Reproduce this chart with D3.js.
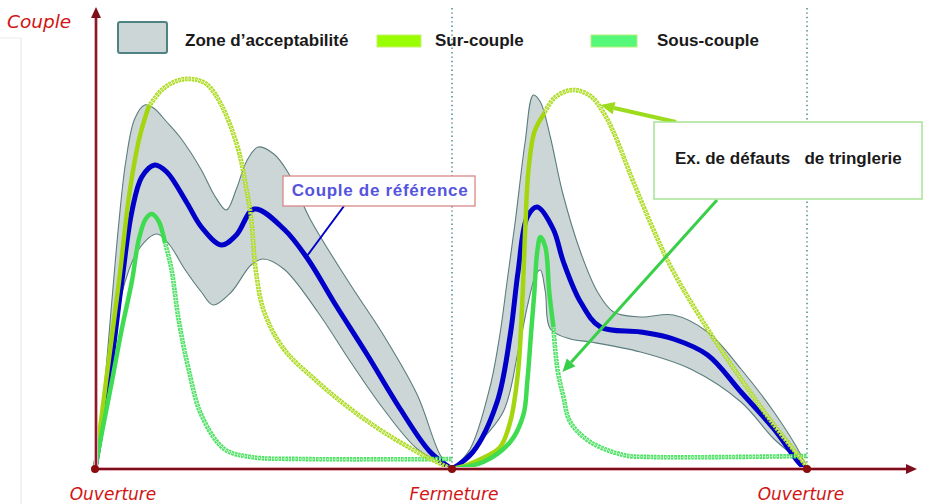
<!DOCTYPE html>
<html><head><meta charset="utf-8">
<script src="https://cdn.jsdelivr.net/npm/d3@7"></script>
<style>body{margin:0;background:#fff}svg{display:block}</style>
</head><body><svg id="c" width="927" height="504"></svg>
<script>
// ---------- DATA (x: cycle position 0..200, y: couple 0..100) ----------
const yLabel = "Couple";
const phases = ["Ouverture", "Fermeture", "Ouverture"];
const phasePos = [0, 100, 200];
const legendLabels = ["Zone d\u2019acceptabilité", "Sur-couple", "Sous-couple"];
const refLabel = "Couple de référence";
const defectLabel = "Ex. de défauts   de tringlerie";

const bandUpper1 = [[0,0],[2.5,19.25],[4.7,41.75],[6.7,61.75],[8.6,76.75],[11.1,87.5],[13.9,91],[16.4,90.25],[20.1,86.75],[24.2,82.5],[29.8,74.75],[33.4,68.5],[36.8,64.75],[39.6,70],[42.5,77],[45.7,80.5],[50.1,78.75],[54.0,74.25],[60.4,62.25],[71.6,46],[80.8,33.5],[90.3,18.5],[96.7,3.5],[100,0]];
const bandLower1 = [[0,0],[3.3,19.25],[6.1,36.75],[8.4,46.75],[12.3,55],[17.3,58.75],[20.9,56],[25.1,50],[29.8,44.25],[33.1,41],[38.2,44.25],[43.7,51],[47.1,52.5],[52.9,50],[62.4,39.25],[71.6,26.75],[80.8,15],[90.3,5],[100,0]];
const bandUpper2 = [[100,0],[105.1,5],[110.7,20.5],[113.6,34.25],[115.5,46.75],[117.8,61.75],[120.6,81.75],[122.9,93.5],[124.9,91.75],[127.7,83],[131.1,69.25],[136.2,54.25],[141.0,44.25],[145.5,39.25],[153.1,38],[162.4,38.5],[172.0,34.25],[181.4,25],[190.7,14.25],[198.3,3.5],[200,0]];
const bandLower2 = [[100,0],[105.9,5],[114.4,14.25],[118.6,29.25],[121.5,41.75],[123.7,48.75],[124.9,49.75],[126.3,44.25],[127.7,35],[133.3,32.5],[139.0,31.75],[153.1,29.25],[167.2,25],[181.4,16.75],[190.7,7.5],[198.3,1.75],[200,0]];

const ref1 = [[0,0],[3.9,21.75],[7.5,46.75],[10.3,64.25],[13.1,73],[16.7,76],[20.1,74.25],[25.6,66.75],[29.8,60.5],[35.4,56],[39.6,58.5],[44.6,65],[52.9,60],[59.6,52.5],[66.9,41.75],[76.3,28.5],[85.5,15],[93.9,4.25],[100,0]];
const ref2 = [[100,0],[105.9,4.25],[112.7,16.75],[116.4,33.5],[118.6,49.25],[121.2,63],[124.0,65.5],[128.5,60],[131.4,51.75],[136.2,41.75],[141.8,35.5],[153.1,34.25],[162.4,32.5],[172.0,28.5],[181.4,19.25],[190.7,10],[198.3,1],[200,0]];

const sur1Solid = [[0,0],[3.1,22],[6.7,46.75],[9.7,69.25],[12.5,83],[15.0,90.5]];
const sur1Dotted = [[15.0,90.5],[18.7,94.75],[22.8,97],[27.0,97.5],[31.2,96.25],[35.4,91],[40.1,80],[42.3,70.5],[43.7,63],[45.1,49.25],[47.4,39.25],[52.9,30],[62.4,21.75],[71.6,15],[80.8,9.25],[90.3,4.25],[97.5,1],[100,0]];
const sur2Solid = [[100,0],[104.2,1],[109.3,3],[113.6,5.5],[116.4,11.75],[118.6,24.25],[119.8,41.75],[120.6,59.25],[121.5,74.25],[123.2,84.25],[125.7,88.5]];
const sur2Dotted = [[125.7,88.5],[129.1,93],[134.2,94.75],[139.0,93.25],[142.4,89.5],[145.5,84.25],[151.1,71.75],[157.9,57.5],[162.4,49.25],[172.0,35],[181.4,22.5],[190.7,11],[198.3,2.5],[200,0.5]];

const sous1Solid = [[0,0],[1.95,9.25],[4.7,21.75],[7.5,35],[10.3,46.75],[12.3,57.5],[14.2,62.5],[15.9,63.75],[17.8,62],[19.5,57]];
const sous1Dotted = [[19.5,57],[21.4,50],[23.4,37.5],[26.2,25],[29.8,13.5],[36.2,5],[43.7,3],[57.7,2.5],[100,2.5]];
const sous2Solid = [[100,0],[108.8,1.75],[116.4,6.75],[120.1,13.5],[121.2,21.75],[122.3,34.25],[123.2,44.25],[124.0,54.25],[124.9,58],[126.3,55.5],[127.4,44.25],[128.5,36]];
const sous2Dotted = [[128.5,36],[129.7,25],[131.4,18],[133.3,11.75],[139.0,6.75],[148.3,3.5],[155.9,3],[200,3.25]];

// annotation anchors (data units)
const refPointer = [59.6, 53.5];
const surPointer = [141.8, 91];
const sousPointer = [131.1, 24.25];

// ---------- DRAWING ----------
const svg = d3.select("#c");
const x = d3.scaleLinear().domain([0, 100, 200]).range([95, 452, 807]);
const y = d3.scaleLinear().domain([0, 100]).range([469, 69]);
const line = d3.line().x(d => x(d[0])).y(d => y(d[1])).curve(d3.curveCatmullRom.alpha(0.5));

const C = {
  axis: "#7d0f1c", axisGlow: "#e3aab2", red: "#d11414",
  bandFill: "#cdd6d6", bandStroke: "#5b7d7d",
  blue: "#0000c8", sur: "#a4d610", surDot: "#addc22", sous: "#3fdc52", sousDot: "#4ee264",
  grid: "#4b9494"
};

// faint page border
svg.append("line").attr("x1",21).attr("x2",21).attr("y1",38).attr("y2",504).attr("stroke","#e6e6e6");
svg.append("line").attr("x1",0).attr("x2",21).attr("y1",38).attr("y2",38).attr("stroke","#ececec");

// vertical dotted separators
[phasePos[1], phasePos[2]].forEach(p => {
  svg.append("line").attr("x1", x(p)).attr("x2", x(p)).attr("y1", 8).attr("y2", y(0))
    .attr("stroke", C.grid).attr("stroke-width", 1.6).attr("stroke-dasharray", "1.4 3");
});

// band
function bandPath(up, low) {
  return line(up) + line(low.slice().reverse()).replace(/^M/, "L") + "Z";
}
[[bandUpper1, bandLower1], [bandUpper2, bandLower2]].forEach(([u, l]) => {
  svg.append("path").attr("d", bandPath(u, l)).attr("fill", C.bandFill)
    .attr("stroke", C.bandStroke).attr("stroke-width", 1.1).attr("stroke-linejoin", "round");
});

// reference curve
[ref1, ref2].forEach(d => {
  svg.append("path").attr("d", line(d)).attr("fill", "none").attr("stroke", C.blue)
    .attr("stroke-width", 5).attr("stroke-linecap", "round");
});

function dotted(d, color) {
  svg.append("path").attr("d", line(d)).attr("fill", "none").attr("stroke", color)
    .attr("stroke-width", 4.6).attr("stroke-dasharray", "2.6 0.8");
  svg.append("path").attr("d", line(d)).attr("fill", "none").attr("stroke", "#ffffff")
    .attr("stroke-width", 1.3).attr("stroke-dasharray", "1 2.4").attr("stroke-dashoffset", -0.8)
    .attr("opacity", 0.8);
}
function solid(d, color) {
  svg.append("path").attr("d", line(d)).attr("fill", "none").attr("stroke", color)
    .attr("stroke-width", 4.5).attr("stroke-linecap", "round");
}
dotted(sous1Dotted, C.sousDot);
dotted(sous2Dotted, C.sousDot);
dotted(sur1Dotted, C.surDot);
dotted(sur2Dotted, C.surDot);
solid(sur1Solid, C.sur);
solid(sur2Solid, C.sur);
solid(sous1Solid, C.sous);
solid(sous2Solid, C.sous);

// axes
const x0 = x(0), y0 = y(0);
function axisLine(x1, y1, x2, y2) {
  svg.append("line").attr("x1",x1).attr("y1",y1).attr("x2",x2).attr("y2",y2)
    .attr("stroke", C.axisGlow).attr("stroke-width", 4);
  svg.append("line").attr("x1",x1).attr("y1",y1).attr("x2",x2).attr("y2",y2)
    .attr("stroke", C.axis).attr("stroke-width", 1.8);
}
axisLine(x0 + 1, y0, x0 + 1, 16);
axisLine(x0, y0, 908, y0);
svg.append("path").attr("d", `M${x0+1},7 L${x0-4},18 L${x0+6},18 Z`).attr("fill", C.axis);
svg.append("path").attr("d", `M917,${y0} L906,${y0-5} L906,${y0+5} Z`).attr("fill", C.axis);
phasePos.forEach(p => {
  svg.append("circle").attr("cx", x(p)).attr("cy", y0).attr("r", 4).attr("fill", "#8a0c0c");
});

// axis labels
svg.append("text").attr("x", 7).attr("y", 28).text(yLabel)
  .attr("font-family", "DejaVu Sans, sans-serif").attr("font-style", "italic")
  .attr("font-size", 18.5).attr("fill", C.red);
const phaseLabelX = [113, 454, 801];
phases.forEach((t, i) => {
  svg.append("text").attr("x", phaseLabelX[i]).attr("y", 500).attr("text-anchor", "middle").text(t)
    .attr("font-family", "DejaVu Sans, sans-serif").attr("font-style", "italic")
    .attr("font-size", 17).attr("fill", C.red);
});

// legend
const lf = "Liberation Sans, Arial, sans-serif";
svg.append("rect").attr("x", 118).attr("y", 22).attr("width", 49).attr("height", 31).attr("rx", 2)
  .attr("fill", C.bandFill).attr("stroke", "#4f8383").attr("stroke-width", 2);
svg.append("rect").attr("x", 377).attr("y", 35).attr("width", 44).attr("height", 12)
  .attr("fill", "#99ff00").attr("stroke", "#c9f070").attr("stroke-width", 1);
svg.append("rect").attr("x", 591).attr("y", 35).attr("width", 46).attr("height", 12)
  .attr("fill", "#55f878").attr("stroke", "#b6f07a").attr("stroke-width", 1);
const legX = [185, 435, 657];
legendLabels.forEach((t, i) => {
  svg.append("text").attr("x", legX[i]).attr("y", 46).text(t)
    .attr("font-family", lf).attr("font-weight", "bold").attr("font-size", 17).attr("fill", "#1a1a1a");
});

// reference callout
svg.append("line").attr("x1", 344).attr("y1", 206).attr("x2", x(refPointer[0])).attr("y2", y(refPointer[1]))
  .attr("stroke", C.blue).attr("stroke-width", 2);
svg.append("rect").attr("x", 283).attr("y", 176).attr("width", 192).attr("height", 30)
  .attr("fill", "#fff").attr("stroke", "#d98888").attr("stroke-width", 1.3);
svg.append("text").attr("x", 380).attr("y", 196).attr("text-anchor", "middle").text(refLabel)
  .attr("font-family", lf).attr("font-weight", "bold").attr("font-size", 17)
  .attr("letter-spacing", 0.7).attr("fill", "#5454de");

// defect callout arrows
function arrow(x1, y1, x2, y2, color, w, head) {
  const a = Math.atan2(y2 - y1, x2 - x1);
  const bx = x2 - head * Math.cos(a), by = y2 - head * Math.sin(a);
  svg.append("line").attr("x1", x1).attr("y1", y1).attr("x2", bx).attr("y2", by)
    .attr("stroke", color).attr("stroke-width", w);
  const px = -Math.sin(a) * head * 0.45, py = Math.cos(a) * head * 0.45;
  svg.append("path").attr("d", `M${x2},${y2} L${bx+px},${by+py} L${bx-px},${by-py} Z`).attr("fill", color);
}
arrow(676, 122, x(surPointer[0]), y(surPointer[1]), "#9ddc1c", 4, 14);
arrow(717, 200, x(sousPointer[0]), y(sousPointer[1]), "#38cf48", 3, 13);
svg.append("rect").attr("x", 654).attr("y", 122).attr("width", 268).attr("height", 77)
  .attr("fill", "#fff").attr("stroke", "#a6e394").attr("stroke-width", 1.5);
svg.append("text").attr("x", 675).attr("y", 164).text(defectLabel)
  .style("white-space", "pre")
  .attr("font-family", lf).attr("font-weight", "bold").attr("font-size", 17).attr("fill", "#1a1a1a");
</script>
</body></html>
